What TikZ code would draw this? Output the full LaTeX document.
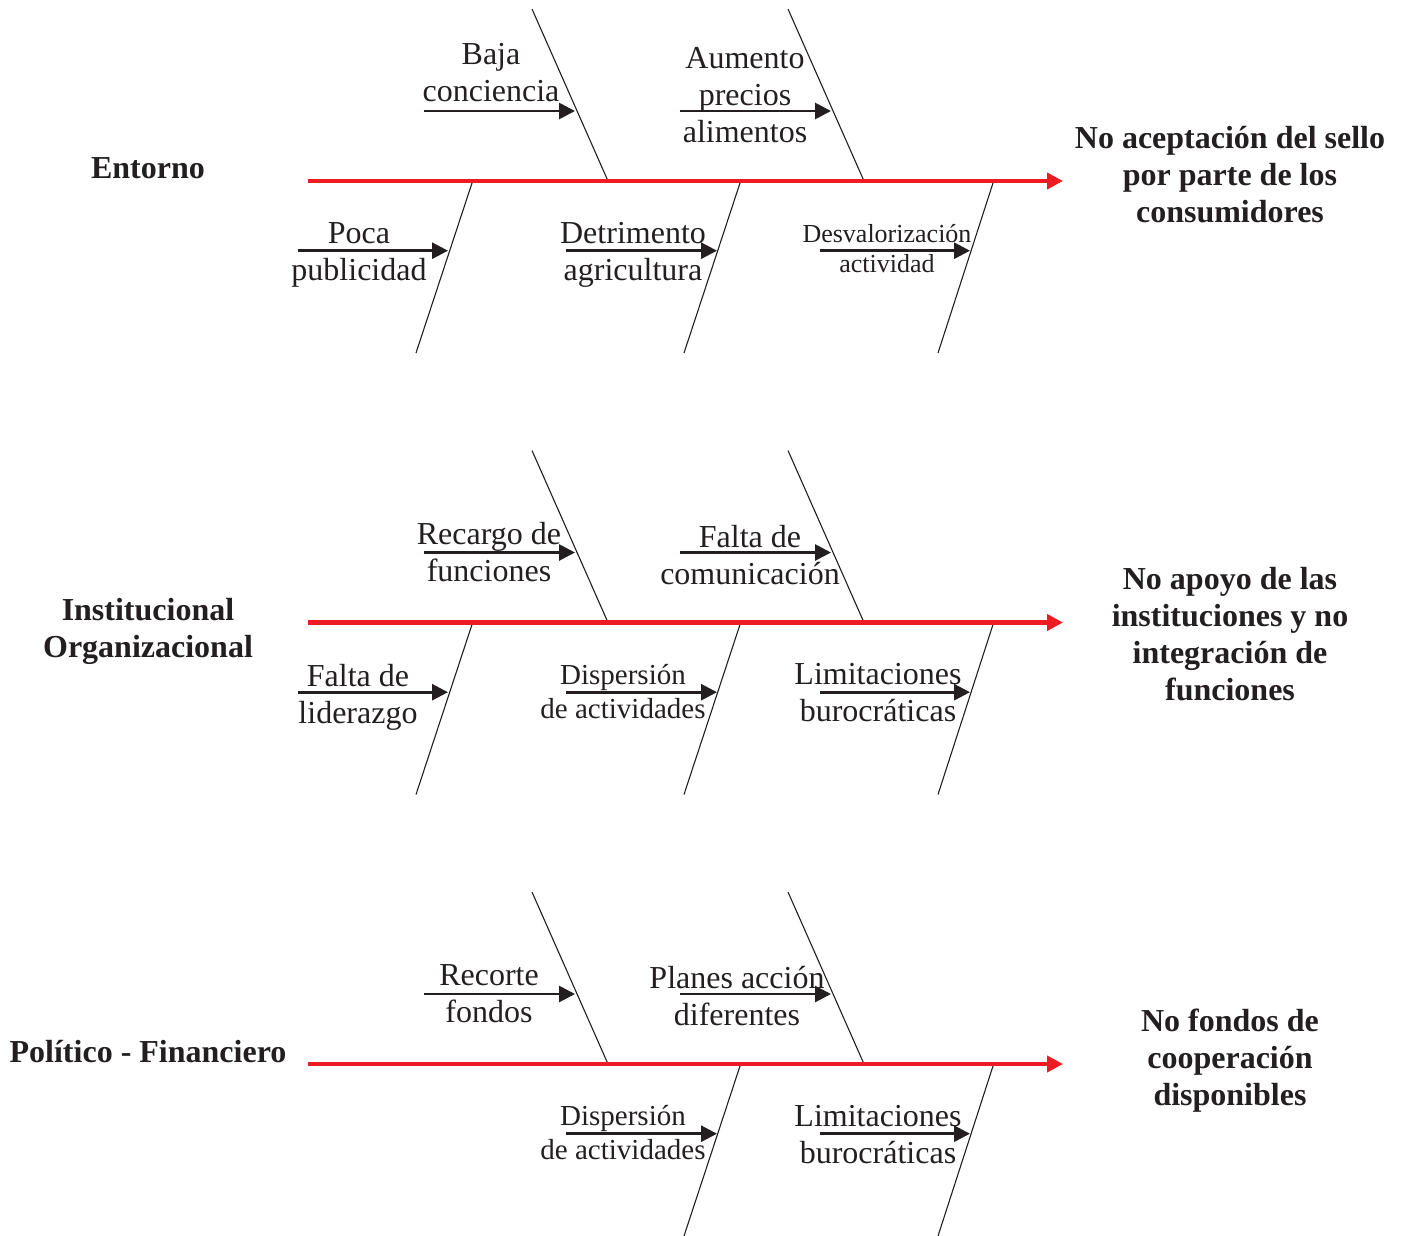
\documentclass[tikz,border=0pt]{standalone}
\usepackage{fontspec}
\setmainfont{Liberation Serif}
\usetikzlibrary{arrows.meta}
\definecolor{ink}{HTML}{231F20}
\definecolor{spinered}{HTML}{ED1C24}
\begin{document}
\begin{tikzpicture}[x=1pt,y=-1pt,
  spine/.style={spinered, line width=4.5pt, -{Triangle[length=16pt,width=16pt]}},
  bone/.style={ink, line width=1.1pt},
  cause/.style={ink, line width=2.8pt, -{Triangle[length=16pt,width=16pt]}},
  lbl/.style={text=ink, font=\fontsize{32}{37}\selectfont, align=center, inner sep=0pt, anchor=base},
  smalllbl/.style={font=\fontsize{29}{34}\selectfont},
  tinylbl/.style={font=\fontsize{26}{30}\selectfont},
  head/.style={text=ink, font=\fontsize{32}{37}\selectfont\bfseries, align=center, inner sep=0pt, anchor=base}]
\useasboundingbox (0,0) rectangle (1403,1235);

% ---------- labels row 1 (anchor = baseline of last line)
\node[lbl] (baja) at (491,101) {Baja\\conciencia};
\node[lbl] (aumento) at (745,142) {Aumento\\precios\\alimentos};
\node[lbl] (poca) at (359,280) {Poca\\publicidad};
\node[lbl] (detr) at (633,280) {Detrimento\\agricultura};
\node[lbl,tinylbl] (desv) at (887,272) {Desvalorización\\actividad};
\node[head] (entorno) at (148,178) {Entorno};
\node[head] (h1) at (1230,222) {No aceptación del sello\\por parte de los\\consumidores};

% ---------- labels row 2
\node[lbl] (recargo) at (489,581) {Recargo de\\funciones};
\node[lbl] (faltacom) at (750,584) {Falta de\\comunicación};
\node[lbl] (faltalid) at (358,723) {Falta de\\liderazgo};
\node[lbl,smalllbl] (disp2) at (623,718) {Dispersión\\de actividades};
\node[lbl] (lim2) at (878,721) {Limitaciones\\burocráticas};
\node[head] (inst) at (148,657) {Institucional\\Organizacional};
\node[head] (h2) at (1230,700) {No apoyo de las\\instituciones y no\\integración de\\funciones};

% ---------- labels row 3
\node[lbl] (recorte) at (489,1022) {Recorte\\fondos};
\node[lbl] (planes) at (737,1025) {Planes acción\\diferentes};
\node[lbl,smalllbl] (disp3) at (623,1159) {Dispersión\\de actividades};
\node[lbl] (lim3) at (878,1163) {Limitaciones\\burocráticas};
\node[head] (pol) at (148,1062) {Político - Financiero};
\node[head] (h3) at (1230,1105) {No fondos de\\cooperación\\disponibles};

% ---------- row 1 geometry
\coordinate (t1) at (308,181);  \coordinate (e1) at (1063,181);
\coordinate (u1a) at (532,9);   \coordinate (u1b) at (608,181);
\coordinate (u2a) at (788,9);   \coordinate (u2b) at (864,181);
\coordinate (l1a) at (472,183); \coordinate (l1b) at (416,353);
\coordinate (l2a) at (740,183); \coordinate (l2b) at (684,353);
\coordinate (l3a) at (993,183); \coordinate (l3b) at (938,353);
\coordinate (c1s) at (424,111); \coordinate (c1e) at (575,111);
\coordinate (c2s) at (680,111); \coordinate (c2e) at (831,111);
\coordinate (c3s) at (298,250.7); \coordinate (c3e) at (448,250.7);
\coordinate (c4s) at (566,250.7); \coordinate (c4e) at (717,250.7);
\coordinate (c5s) at (820,250.7); \coordinate (c5e) at (970,250.7);
\draw[bone] (u1a) -- (u1b); \draw[bone] (u2a) -- (u2b);
\draw[bone] (l1a) -- (l1b); \draw[bone] (l2a) -- (l2b); \draw[bone] (l3a) -- (l3b);
\draw[spine] (t1) -- (e1);
\draw[cause] (c1s) -- (c1e); \draw[cause] (c2s) -- (c2e);
\draw[cause] (c3s) -- (c3e); \draw[cause] (c4s) -- (c4e); \draw[cause] (c5s) -- (c5e);

% ---------- row 2 geometry
\coordinate (t2) at (308,622.5);  \coordinate (e2) at (1063,622.5);
\coordinate (v1a) at (532,450.5); \coordinate (v1b) at (608,622.5);
\coordinate (v2a) at (788,450.5); \coordinate (v2b) at (864,622.5);
\coordinate (m1a) at (472,624.5); \coordinate (m1b) at (416,794.5);
\coordinate (m2a) at (740,624.5); \coordinate (m2b) at (684,794.5);
\coordinate (m3a) at (993,624.5); \coordinate (m3b) at (938,794.5);
\coordinate (d1s) at (424,552.5); \coordinate (d1e) at (575,552.5);
\coordinate (d2s) at (680,552.5); \coordinate (d2e) at (831,552.5);
\coordinate (d3s) at (298,692.2); \coordinate (d3e) at (448,692.2);
\coordinate (d4s) at (566,692.2); \coordinate (d4e) at (717,692.2);
\coordinate (d5s) at (820,692.2); \coordinate (d5e) at (970,692.2);
\draw[bone] (v1a) -- (v1b); \draw[bone] (v2a) -- (v2b);
\draw[bone] (m1a) -- (m1b); \draw[bone] (m2a) -- (m2b); \draw[bone] (m3a) -- (m3b);
\draw[spine] (t2) -- (e2);
\draw[cause] (d1s) -- (d1e); \draw[cause] (d2s) -- (d2e);
\draw[cause] (d3s) -- (d3e); \draw[cause] (d4s) -- (d4e); \draw[cause] (d5s) -- (d5e);

% ---------- row 3 geometry
\coordinate (t3) at (308,1064);  \coordinate (e3) at (1063,1064);
\coordinate (w1a) at (532,892);  \coordinate (w1b) at (608,1064);
\coordinate (w2a) at (788,892);  \coordinate (w2b) at (864,1064);
\coordinate (n2a) at (740,1066); \coordinate (n2b) at (684,1236);
\coordinate (n3a) at (993,1066); \coordinate (n3b) at (938,1236);
\coordinate (f1s) at (424,994);  \coordinate (f1e) at (575,994);
\coordinate (f2s) at (680,994);  \coordinate (f2e) at (831,994);
\coordinate (f4s) at (566,1133.7); \coordinate (f4e) at (717,1133.7);
\coordinate (f5s) at (820,1133.7); \coordinate (f5e) at (970,1133.7);
\draw[bone] (w1a) -- (w1b); \draw[bone] (w2a) -- (w2b);
\draw[bone] (n2a) -- (n2b); \draw[bone] (n3a) -- (n3b);
\draw[spine] (t3) -- (e3);
\draw[cause] (f1s) -- (f1e); \draw[cause] (f2s) -- (f2e);
\draw[cause] (f4s) -- (f4e); \draw[cause] (f5s) -- (f5e);
\end{tikzpicture}
\end{document}
